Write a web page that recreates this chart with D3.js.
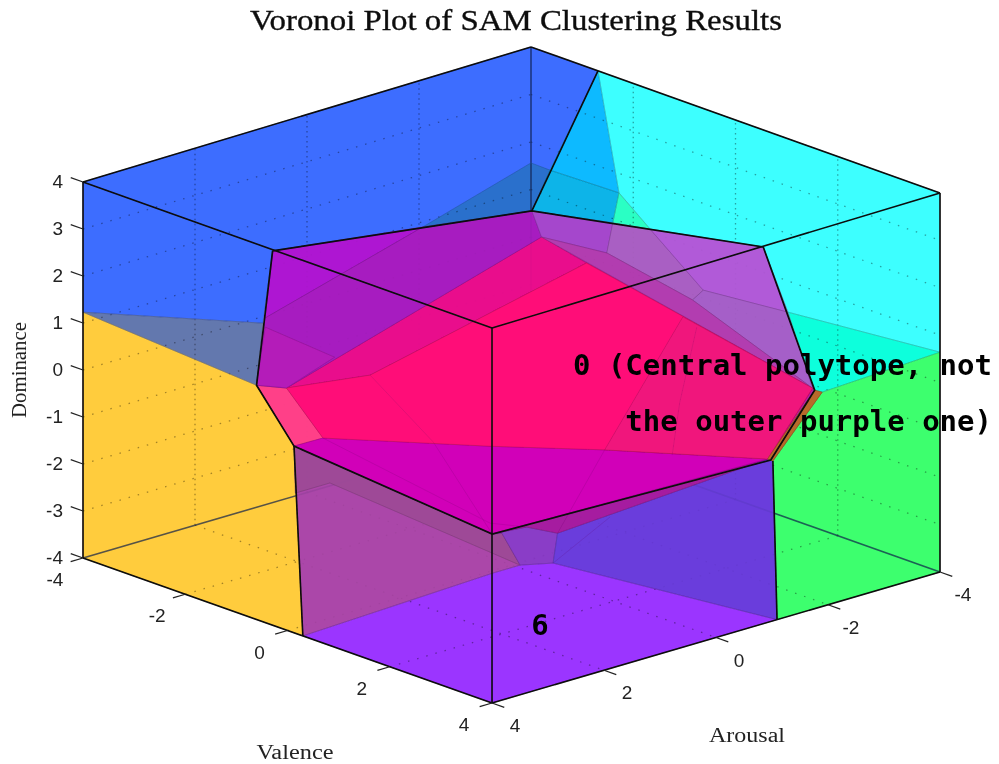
<!DOCTYPE html>
<html><head><meta charset="utf-8">
<style>html,body{margin:0;padding:0;background:#fff}svg{display:block}</style>
<script src="https://cdn.jsdelivr.net/npm/d3@7"></script>
</head><body>
<svg id="chart" width="999" height="764"></svg>
<script>
const titleText = "Voronoi Plot of SAM Clustering Results";
const axisNames = ["Valence", "Arousal", "Dominance"];
const horizontalTicks = [-4, -2, 0, 2, 4];
const dominanceTicks = [-4, -3, -2, -1, 0, 1, 2, 3, 4];
const gridHorizontal = [-2, 0, 2];
const gridDominance = [-3, -2, -1, 0, 1, 2, 3];
const annotationLines = ["0 (Central polytope, not", "the outer purple one)"];
const annotationSix = "6";

// [valence, arousal, dominance] of each Voronoi vertex
const vertices = {
  TL:[-4,4,4], BT:[-4,-4,4], TR:[4,-4,4], FT:[4,4,4],
  LB:[-4,4,-4], FB:[4,4,-4], RB:[4,-4,-4], BB:[-4,-4,-4],
  sl1:[-4,4,1.23], r1:[4,-4,0.64], tE:[-2.69,-4,4],
  bk1:[-4,-4,1.56], bk2:[-3.63,-4,1.55], bk3:[-2.28,-4,1.59], bk4:[-4,-2.07,0.89],
  bk5:[-1.67,-4,1.06], bk6:[-2.4,-4,0.91],
  h1:[-2.23,2.23,2.59], h2:[0.19,-0.19,3.51], h3:[2.35,-2.35,2.81], h4:[2.83,-2.83,-0.2],
  h4b:[2.9,-2.9,-0.24], h5:[2.42,-2.42,-1.69], h5b:[2.44,-2.44,-1.71], h6:[-0.18,0.18,-3.35],
  h7:[-2.03,2.03,-1.55], h8:[-2.38,2.38,-0.27], h9:[-2.32,2.32,1.05], m:[2.58,-2.58,1.44],
  f1:[0.3,4,-4], f2:[4,-1.09,-4], f3:[0.08,0.4,-4], f4:[0.08,-0.08,-4], f5:[0.31,-0.46,-4],
  i1:[-2.1,2.1,-0.32], i2:[-1.76,1.76,-1.37], i3:[-1.32,1.32,-0.02], i4:[0.28,-0.28,2.96],
  i5:[0.7,-0.7,2.42], i6:[2.81,-2.81,-0.16], i7:[-0.2,0.2,-1.49], i8:[0.87,-0.87,-1.53],
  i9:[1.6,-1.6,1.31], i10:[1.69,-1.69,1.67], i11:[1.79,-1.79,1.88], i12:[0.89,-0.89,2.64],
  i13:[-0.09,0.09,-3.33], i14:[0.14,-0.14,-3.19], i15:[0.43,-0.43,-3.31],
  i16:[-2.3,2.3,1.16], i17:[-2.3,2.3,0.97], i18:[-1.65,1.65,0.35],
  w1:[-4,-0.41,-3.94], w2:[-4,0.21,-3.94], ih:[2.39,-2.39,-1.67],
  j1:[-0.73,0.73,-1.42], j2:[0.92,-0.92,-2.95], j3:[-0.2,0.2,-3.12],
  j4:[1.73,-1.73,1.1], j5:[1.57,-1.57,-0.51], j6:[1.5,-1.5,-1.62]
};

const wallRegions = [
  ["blue","#3d6dff",["TL","BT","tE","h2","h1","h9","sl1"]],
  ["teal","#2a70cc",["bk1","bk2","h2","bk4"]],
  ["skyUpper","#0cbaff",["tE","bk2","bk3"]],
  ["skyLower","#08b4e8",["bk2","h2","bk6","bk3"]],
  ["cyan","#3cffff",["tE","TR","r1","m","h3","bk5","bk3"]],
  ["mint","#2bffc4",["bk3","bk6","bk5"]],
  ["aqua","#10ffdc",["m","r1","h4b","h4"]],
  ["green","#3dff6e",["h4b","r1","RB","f2","h5b"]],
  ["yellow","#ffcc3c",["sl1","h8","h7","f1","LB"]],
  ["slate","#6478ae",["sl1","h9","h8"]],
  ["floor","#9b35ff",["f1","FB","f2","f5","f4","f3"]]
];
const frontRegions = [
  ["mauve","#ab47a8",["h7","f1","f3","f4","i13","h6"],0.88],
  ["mauveDark","#9c4a96",["h7","w2","w1","f4","i13","h6"],0.9],
  ["pentagon","#8a3cc6",["i13","f4","f5","i15","i14","h6"],0.9],
  ["violet","#6a3cdc",["i15","f5","f2","h5b","ih"],0.88],
  ["sliver","#a51ca0",["h6","i14","i15","ih"],0.95],
  ["magenta","#d004b8",["i2","i7","i8","ih","h6","h7"],0.985],
  ["pink","#ff1178",["i1","i3","i5","i6","ih","i8","i7","i2"],0.99],
  ["pinkUpper","#e8098c",["i1","i4","i5","i3"],0.97],
  ["pinkRight","#f0157c",["i9","i8","ih","i6"],0.99],
  ["salmon","#ff4088",["h8","i1","i2","h7"],0.97],
  ["purpleA","#ae15d2",["h1","bk4","i16"],0.93],
  ["purpleB","#a71ec0",["i16","bk4","h2","i4","i1","h8"],0.93],
  ["purpleC","#b41ab8",["i17","i18","i1","h8"],0.96],
  ["lilac1","#a546cc",["h2","bk6","i12","i4"],0.94],
  ["lilac2","#a95fc2",["bk6","bk5","i11","i10","i12"],0.94],
  ["lilac3","#b05ad8",["bk5","h3","m","i11"],0.94],
  ["lilac4","#a55fc8",["i11","m","i6","i10"],0.94],
  ["lilac5","#b23cb0",["i4","i12","i10","i6"],0.96],
  ["brown","#b8692a",["h4","h4b","h5b","ih"],1]
];
const faintEdges = [["i3","j1"],["j1","h6"],["i15","i8"],["f5","j2"],["i2","j3"],["j3","i14"],["j4","j5"],["j5","j6"]];
const silhouette = ["h1","h2","h3","h4","h5","h6","h7","h8","h1"];
const blackEdges = [["h2","tE"],["h7","f1"],["h5b","f2"],["TL","BT"],["BT","TR"],["TL","LB"],["TR","RB"],
  ["LB","FB"],["FB","RB"],["TL","FT"],["FT","TR"],["FT","FB"]];
const backEdges = [["LB","BB"],["BB","RB"],["BT","BB"]];

const xV = d3.scaleLinear().domain([-4,4]).range([0,409]);
const xA = d3.scaleLinear().domain([4,-4]).range([83,531]);
const yVb = d3.scaleLinear().domain([-4,4]).range([0,145]);
const yAb = d3.scaleLinear().domain([4,-4]).range([558,427]);
const yVt = d3.scaleLinear().domain([-4,4]).range([0,146]);
const yAt = d3.scaleLinear().domain([4,-4]).range([182,47]);
function project(v,a,d){
  const yD = d3.scaleLinear().domain([-4,4]).range([yVb(v)+yAb(a), yVt(v)+yAt(a)]);
  return [xV(v)+xA(a), yD(d)];
}
const pv = n => project(...vertices[n]);
const line = d3.line();
const svg = d3.select("#chart");
const defs = svg.append("defs");
defs.append("filter").attr("id","soft").attr("x","-2%").attr("y","-2%").attr("width","104%").attr("height","104%")
  .append("feGaussianBlur").attr("stdDeviation",0.45);
const plot = svg.append("g").attr("filter","url(#soft)");

function drawRegions(list, opaque){
  plot.append("g").selectAll("path").data(list).join("path")
    .attr("d", r => line(r[2].map(pv))+"Z")
    .attr("fill", r => r[1]).attr("fill-opacity", r => opaque ? 1 : r[3])
    .attr("stroke", r => d3.color(r[1]).darker(0.9)).attr("stroke-width",0.9).attr("stroke-opacity",opaque ? 0 : 0.5);
}
// the silhouette is filled first so no seam shows between the front cells
plot.append("path").attr("d",line(silhouette.map(pv))+"Z").attr("fill","#b01aa8");
drawRegions(wallRegions,true);
drawRegions(frontRegions,true);

// dotted grid on the two back walls and the floor
const grid = plot.append("g").attr("fill","none").attr("stroke","#000").attr("stroke-opacity",0.36);
function gridLine(a,b,dash){
  grid.append("path").attr("d",line([project(...a),project(...b)])).attr("stroke-width",1.3).attr("stroke-dasharray",dash);
}
gridDominance.forEach(d=>{
  gridLine([-4,4,d],[-4,-4,d],"1.5 8");
  gridLine([-4,-4,d],[4,-4,d],"1.5 8");
});
gridHorizontal.forEach(t=>{
  gridLine([-4,t,-4],[-4,t,4],"1.5 3.5");
  gridLine([t,-4,-4],[t,-4,4],"1.5 3.5");
  gridLine([t,4,-4],[t,-4,-4],"1.5 8");
  gridLine([-4,t,-4],[4,t,-4],"1.5 8");
});
plot.append("g").selectAll("path").data(backEdges).join("path")
  .attr("d",e=>line(e.map(pv))).attr("fill","none").attr("stroke","#10204a").attr("stroke-width",1.6).attr("stroke-opacity",0.7);

drawRegions(frontRegions,false);
// the boundary lines of the wall cells, above the grid
plot.append("g").selectAll("path").data(wallRegions).join("path")
  .attr("d", r => line(r[2].map(pv))+"Z").attr("fill","none")
  .attr("stroke", r => d3.color(r[1]).darker(0.9)).attr("stroke-width",0.9).attr("stroke-opacity",0.55);
drawRegions(frontRegions.filter(r=>r[3]>=0.985),false);
plot.append("g").selectAll("path").data(faintEdges).join("path")
  .attr("d",e=>line(e.map(pv))).attr("fill","none").attr("stroke","#600060").attr("stroke-width",1).attr("stroke-opacity",0.16);

plot.append("path").attr("d",line(silhouette.map(pv))).attr("fill","none").attr("stroke","#0a0a0a").attr("stroke-width",1.7);
plot.append("g").selectAll("path").data(blackEdges).join("path")
  .attr("d",e=>line(e.map(pv))).attr("fill","none").attr("stroke","#0a0a0a").attr("stroke-width",1.6);

// axes
const axis = plot.append("g").attr("fill","#222").attr("stroke","none");
function tick(a,b){ plot.append("path").attr("d",line([project(...a),project(...b)])).attr("stroke","#222").attr("stroke-width",1.2).attr("fill","none"); }
const tickFont = "'Liberation Sans',sans-serif";
horizontalTicks.forEach(t=>{
  tick([t,4,-4],[t,4.22,-4]);
  const p=project(t,4,-4);
  axis.append("text").attr("x",p[0]-28).attr("y",p[1]+28).attr("text-anchor","middle").attr("font-family",tickFont).attr("font-size",19).text(t);
  tick([4,t,-4],[4.24,t,-4]);
  const q=project(4,t,-4);
  axis.append("text").attr("x",q[0]+23).attr("y",q[1]+29).attr("text-anchor","middle").attr("font-family",tickFont).attr("font-size",19).text(t);
});
dominanceTicks.forEach(d=>{
  tick([-4,4,d],[-4.24,4,d]);
  const p=project(-4,4,d);
  axis.append("text").attr("x",p[0]-20).attr("y",p[1]+6).attr("text-anchor","end").attr("font-family",tickFont).attr("font-size",19).text(d);
});
const serif = "'Liberation Serif',serif";
axis.append("text").attr("x",516).attr("y",30).attr("text-anchor","middle").attr("font-family",serif).attr("font-size",29).attr("fill","#111").attr("stroke","#111").attr("stroke-width",0.35).attr("textLength",532).attr("lengthAdjust","spacingAndGlyphs").text(titleText);
axis.append("text").attr("x",295).attr("y",759).attr("text-anchor","middle").attr("font-family",serif).attr("font-size",20).attr("textLength",77).attr("lengthAdjust","spacingAndGlyphs").text(axisNames[0]);
axis.append("text").attr("x",747).attr("y",742).attr("text-anchor","middle").attr("font-family",serif).attr("font-size",20).attr("textLength",76).attr("lengthAdjust","spacingAndGlyphs").text(axisNames[1]);
axis.append("text").attr("transform","translate(26,370) rotate(-90)").attr("text-anchor","middle").attr("font-family",serif).attr("font-size",20).attr("textLength",96).attr("lengthAdjust","spacingAndGlyphs").text(axisNames[2]);

// annotations
const note = svg.append("g").attr("fill","#000").attr("font-family","'DejaVu Sans Mono',monospace").attr("font-weight","bold").attr("font-size",29);
note.append("text").attr("x",992).attr("y",375).attr("text-anchor","end").text(annotationLines[0]);
note.append("text").attr("x",992).attr("y",431).attr("text-anchor","end").text(annotationLines[1]);
note.append("text").attr("x",540).attr("y",635).attr("text-anchor","middle").text(annotationSix);
</script>
</body></html>
